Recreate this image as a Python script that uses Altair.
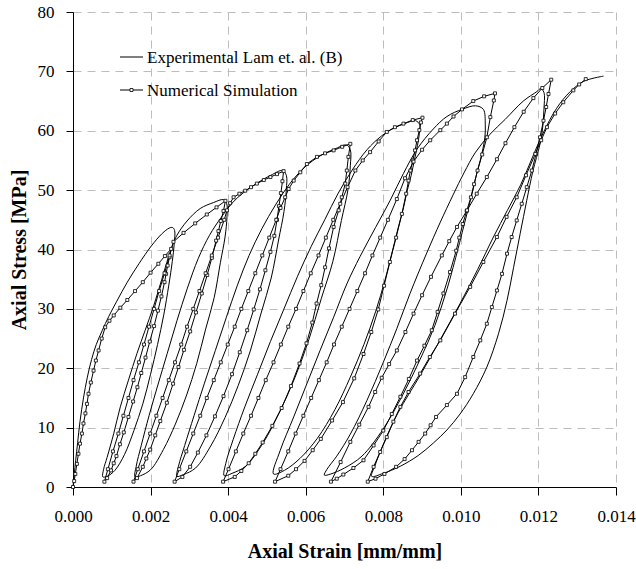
import altair as alt
import pandas as pd

# ---------------- data (strain in 1e-3 mm/mm, stress in MPa), in path order ----------------
num_initial = [(0, 0), (0.03, 1.0), (0.06, 2.2), (0.10, 3.9), (0.14, 5.6), (0.18, 7.3), (0.23, 9.0),
               (0.27, 10.7), (0.32, 12.4), (0.36, 14.0), (0.40, 15.7), (0.46, 17.6), (0.53, 19.6),
               (0.59, 21.3), (0.66, 23.0), (0.74, 25.0), (0.83, 26.9), (0.94, 28.0), (1.05, 28.9),
               (1.22, 30.2), (1.40, 31.5), (1.60, 33.0), (1.80, 34.5), (2.00, 36.1), (2.20, 37.6),
               (2.37, 38.9), (2.53, 40.1)]
num_unload_1 = [(2.49, 38.7), (2.44, 37.3), (2.40, 35.9), (2.36, 34.5), (2.28, 32.1), (2.19, 29.7),
                (2.09, 27.1), (1.98, 24.5), (1.87, 21.8), (1.76, 19.2), (1.66, 16.8), (1.55, 14.4),
                (1.43, 11.8), (1.31, 9.2), (1.21, 7.2), (1.12, 5.2), (1.05, 4.0), (0.98, 2.8),
                (0.88, 1.5), (0.81, 0.9)]
num_reload_1 = [(0.90, 3.0), (1.03, 6.0), (1.17, 9.0), (1.30, 12.0), (1.43, 15.0), (1.56, 18.0),
                (1.70, 21.0), (1.83, 24.0), (1.96, 27.0), (2.09, 30.0), (2.22, 33.0), (2.36, 36.0),
                (2.49, 39.0), (2.59, 41.3), (2.85, 42.8), (3.15, 44.4), (3.45, 45.9), (3.70, 47.1),
                (3.93, 48.2)]
num_unload_2 = [(3.88, 46.5), (3.81, 44.8), (3.75, 43.1), (3.69, 41.5), (3.58, 38.6), (3.46, 35.7),
                (3.32, 32.6), (3.17, 29.4), (3.02, 26.2), (2.86, 23.1), (2.72, 20.2), (2.58, 17.4),
                (2.42, 14.2), (2.25, 11.1), (2.12, 8.7), (1.99, 6.3), (1.89, 4.8), (1.80, 3.4),
                (1.65, 1.5), (1.56, 0.9)]
num_reload_2 = [(1.67, 3.0), (1.83, 6.0), (1.99, 9.0), (2.15, 12.0), (2.31, 15.0), (2.47, 18.0),
                (2.63, 21.0), (2.79, 24.0), (2.94, 27.0), (3.10, 30.0), (3.26, 33.0), (3.42, 36.0),
                (3.58, 39.0), (3.74, 42.0), (3.90, 45.0), (3.97, 46.6), (4.05, 47.8), (4.14, 48.8),
                (4.29, 49.4), (4.44, 49.9), (4.59, 50.5), (4.74, 51.1), (4.92, 51.7), (5.09, 52.2),
                (5.26, 52.7), (5.43, 53.2)]
num_unload_3 = [(5.40, 51.5), (5.36, 49.5), (5.31, 47.3), (5.26, 45.0), (5.19, 42.3), (5.09, 39.6),
                (4.96, 36.5), (4.82, 33.3), (4.66, 29.9), (4.49, 26.4), (4.30, 22.7), (4.10, 19.0),
                (3.88, 15.3), (3.66, 11.9), (3.44, 8.7), (3.22, 5.8), (3.02, 3.4), (2.82, 1.7),
                (2.62, 0.9)]
num_reload_3 = [(2.74, 3.0), (2.92, 6.0), (3.10, 9.0), (3.28, 12.0), (3.45, 15.0), (3.63, 18.0),
                (3.81, 21.0), (3.99, 24.0), (4.17, 27.0), (4.34, 30.0), (4.52, 33.0), (4.70, 36.0),
                (4.88, 39.0), (5.06, 42.0), (5.24, 45.0), (5.35, 47.0), (5.47, 48.8), (5.56, 50.2),
                (5.69, 51.6), (5.86, 53.0), (6.03, 54.4), (6.29, 55.6), (6.50, 56.2), (6.72, 56.7),
                (6.94, 57.3), (7.15, 57.8)]
num_unload_4 = [(7.10, 55.6), (7.06, 53.3), (7.02, 51.1), (6.93, 48.8), (6.85, 46.6), (6.72, 43.8),
                (6.60, 40.2), (6.50, 37.0), (6.40, 34.0), (6.28, 30.9), (6.17, 27.7), (6.02, 24.2),
                (5.84, 20.8), (5.62, 17.0), (5.38, 13.3), (5.14, 10.3), (4.89, 7.5), (4.70, 5.6),
                (4.53, 4.0), (4.34, 2.7), (4.17, 1.7), (3.87, 0.9)]
num_reload_4 = [(4.01, 3.0), (4.20, 6.0), (4.39, 9.0), (4.59, 12.0), (4.78, 15.0), (4.97, 18.0),
                (5.17, 21.0), (5.36, 24.0), (5.55, 27.0), (5.75, 30.0), (5.94, 33.0), (6.13, 36.0),
                (6.33, 39.0), (6.52, 42.0), (6.71, 45.0), (6.89, 47.7), (7.08, 50.5), (7.28, 53.3),
                (7.47, 55.0), (7.66, 56.4), (7.88, 58.2), (8.09, 59.8), (8.30, 60.6), (8.52, 61.2),
                (8.76, 61.8), (9.01, 62.2)]
num_unload_5 = [(8.97, 61.4), (8.93, 60.1), (8.87, 58.4), (8.82, 56.7), (8.76, 55.0), (8.70, 53.3),
                (8.65, 51.6), (8.59, 49.4), (8.48, 46.0), (8.33, 42.0), (8.17, 37.9), (8.02, 33.9),
                (7.87, 29.9), (7.69, 26.1), (7.49, 22.4), (7.25, 18.3), (6.96, 14.3), (6.68, 11.2),
                (6.39, 8.1), (6.18, 6.2), (5.97, 4.4), (5.75, 3.0), (5.55, 1.9), (5.21, 0.9)]
num_reload_5 = [(5.35, 3.0), (5.55, 6.0), (5.74, 9.0), (5.94, 12.0), (6.14, 15.0), (6.34, 18.0),
                (6.54, 21.0), (6.73, 24.0), (6.93, 27.0), (7.13, 30.0), (7.33, 33.0), (7.53, 36.0),
                (7.72, 39.0), (7.92, 42.0), (8.12, 45.0), (8.35, 48.5), (8.56, 52.0), (8.78, 54.8),
                (9.00, 56.8), (9.21, 58.4), (9.47, 60.1), (9.64, 61.2), (9.81, 62.4), (10.03, 63.6),
                (10.32, 65.0), (10.60, 65.8), (10.88, 66.3)]
num_unload_6 = [(10.85, 65.1), (10.76, 62.3), (10.67, 58.9), (10.55, 56.0), (10.43, 53.3), (10.34, 51.0),
                (10.26, 48.8), (10.15, 46.5), (10.05, 44.3), (9.96, 42.0), (9.88, 39.8), (9.72, 36.2),
                (9.55, 32.6), (9.40, 29.5), (9.25, 26.4), (9.06, 23.8), (8.87, 21.3), (8.66, 18.2),
                (8.44, 15.2), (8.22, 12.3), (8.00, 9.5), (7.75, 7.0), (7.49, 4.5), (7.23, 3.2),
                (6.97, 2.1), (6.80, 1.4), (6.65, 0.9)]
num_reload_6 = [(6.90, 4.2), (7.15, 7.6), (7.38, 10.5), (7.62, 13.5), (7.79, 16.0), (7.96, 18.4),
                (8.15, 20.7), (8.35, 23.0), (8.57, 26.1), (8.78, 29.2), (9.00, 32.3), (9.23, 35.4),
                (9.51, 39.0), (9.70, 41.4), (9.90, 43.8), (10.16, 46.6), (10.41, 49.4), (10.67, 52.2),
                (10.93, 55.2), (11.15, 57.9), (11.38, 60.6), (11.62, 63.2), (11.87, 65.5), (12.10, 67.2),
                (12.33, 68.6)]
num_unload_7 = [(12.26, 66.2), (12.20, 64.0), (12.13, 61.7), (12.04, 58.9), (11.94, 56.1), (11.83, 53.3),
                (11.70, 50.5), (11.57, 47.7), (11.44, 44.9), (11.31, 42.1), (11.19, 39.3), (11.06, 35.9),
                (10.93, 33.1), (10.80, 30.3), (10.67, 27.5), (10.50, 24.7), (10.32, 21.9), (10.11, 18.5),
                (9.90, 15.7), (9.64, 13.8), (9.36, 11.8), (9.22, 10.4), (9.08, 9.0), (8.91, 7.6),
                (8.74, 6.2), (8.55, 4.7), (8.33, 3.4), (8.03, 2.2), (7.80, 1.4), (7.60, 0.9)]
num_reload_7 = [(7.75, 3.4), (7.92, 5.9), (8.09, 8.4), (8.26, 11.0), (8.44, 13.5), (8.65, 16.0),
                (8.95, 19.1), (9.20, 21.9), (9.47, 24.7), (9.85, 29.2), (10.24, 33.7), (10.58, 37.9),
                (10.93, 42.1), (11.18, 45.5), (11.44, 48.8), (11.68, 52.5), (11.92, 56.1), (12.07, 58.4),
                (12.22, 60.6), (12.43, 62.9), (12.64, 64.8), (12.90, 66.8), (13.05, 67.8), (13.22, 68.7)]

exp_initial = [(0, 0), (0.03, 2.0), (0.07, 4.5), (0.12, 7.5), (0.18, 11.0), (0.27, 15.0), (0.37, 18.5),
               (0.48, 21.5), (0.60, 24.0), (0.75, 26.3), (0.92, 28.7), (1.13, 31.3), (1.40, 34.5),
               (1.70, 37.6), (2.02, 40.6), (2.30, 42.7), (2.48, 43.6), (2.57, 43.7)]
exp_unload_1 = [(2.62, 43.2), (2.61, 41.0), (2.56, 38.0), (2.47, 34.0), (2.34, 29.0), (2.18, 24.0),
                (2.00, 19.0), (1.80, 14.0), (1.57, 9.5), (1.33, 5.5), (1.08, 2.8), (0.88, 1.8), (0.77, 1.7)]
exp_reload_1 = [(0.79, 3.0), (0.88, 5.0), (1.05, 9.0), (1.22, 13.5), (1.43, 18.0), (1.65, 22.5),
                (1.86, 26.4), (2.08, 30.5), (2.29, 35.0), (2.46, 38.7), (2.57, 40.8), (2.68, 42.4),
                (2.94, 44.8), (3.28, 46.9), (3.62, 47.9), (3.88, 48.4)]
exp_unload_2 = [(3.96, 47.8), (3.97, 45.5), (3.92, 42.1), (3.80, 37.8), (3.64, 31.9), (3.42, 26.6),
                (3.19, 20.8), (2.93, 15.5), (2.64, 10.6), (2.33, 6.3), (2.00, 2.9), (1.74, 1.9), (1.60, 1.7)]
exp_reload_2 = [(1.63, 3.5), (1.76, 7.0), (1.96, 12.0), (2.18, 17.0), (2.43, 22.5), (2.68, 28.0),
                (2.95, 33.5), (3.23, 38.5), (3.52, 42.4), (3.82, 45.4), (4.10, 47.8), (4.40, 49.6),
                (4.75, 51.2), (5.10, 52.5), (5.40, 53.3)]
exp_unload_3 = [(5.50, 52.5), (5.50, 50.1), (5.44, 46.4), (5.30, 41.6), (5.11, 35.2), (4.85, 29.3),
                (4.57, 22.9), (4.26, 17.1), (3.92, 11.7), (3.55, 6.9), (3.16, 3.2), (2.85, 2.1), (2.68, 1.8)]
exp_reload_3 = [(2.72, 3.5), (2.88, 7.0), (3.12, 12.0), (3.39, 17.5), (3.67, 23.0), (3.95, 28.5),
                (4.24, 34.0), (4.54, 39.0), (4.87, 43.5), (5.22, 47.5), (5.58, 51.0), (5.98, 53.9),
                (6.38, 55.8), (6.74, 56.9), (7.05, 57.6)]
exp_unload_4 = [(7.15, 56.8), (7.15, 54.1), (7.09, 50.1), (6.92, 44.9), (6.70, 38.0), (6.40, 31.7),
                (6.08, 24.8), (5.72, 18.4), (5.33, 12.7), (4.91, 7.5), (4.45, 3.5), (4.10, 2.3), (3.90, 1.9)]
exp_reload_4 = [(3.94, 4.0), (4.13, 8.0), (4.43, 13.5), (4.76, 19.0), (5.09, 24.5), (5.44, 30.0),
                (5.79, 35.5), (6.14, 40.5), (6.49, 45.0), (6.84, 49.5), (7.20, 53.4), (7.58, 56.8),
                (7.95, 59.1), (8.26, 60.4), (8.55, 61.2), (8.83, 61.7)]
exp_unload_5 = [(8.94, 61.0), (8.93, 59.5), (8.88, 57.5), (8.80, 55.0), (8.72, 52.5), (8.62, 50.0),
                (8.52, 47.0), (8.39, 43.8), (8.26, 40.4), (8.05, 35.0), (7.80, 29.5), (7.50, 24.0),
                (7.15, 18.5), (6.75, 13.0), (6.30, 8.2), (5.85, 4.8), (5.45, 2.8), (5.17, 2.2)]
exp_reload_5 = [(5.34, 6.1), (5.69, 11.8), (6.03, 17.4), (6.37, 23.0), (6.72, 28.6), (7.06, 34.2),
                (7.40, 38.8), (7.80, 43.7), (8.18, 48.3), (8.52, 52.8), (8.87, 56.9), (9.29, 60.3),
                (9.64, 62.4), (10.03, 63.6), (10.38, 64.2)]
exp_unload_6 = [(10.58, 63.6), (10.63, 61.0), (10.62, 58.9), (10.57, 57.0), (10.50, 55.0), (10.41, 52.8),
                (10.31, 50.0), (10.20, 47.1), (10.07, 43.8), (9.93, 40.2), (9.65, 33.5), (9.33, 27.2),
                (8.95, 21.5), (8.50, 15.5), (8.00, 9.8), (7.45, 5.2), (7.00, 3.2), (6.65, 2.2), (6.48, 2.0)]
exp_reload_6 = [(6.55, 3.0), (6.80, 5.2), (7.15, 8.9), (7.58, 14.6), (8.00, 21.0), (8.35, 26.7),
                (8.69, 32.6), (9.12, 39.4), (9.47, 44.6), (9.80, 49.2), (10.08, 52.9), (10.38, 56.4),
                (10.75, 59.4), (11.14, 61.9), (11.61, 65.0), (11.96, 66.6), (12.06, 67.1)]
exp_unload_7 = [(12.14, 66.5), (12.14, 63.4), (12.11, 60.6), (12.05, 58.0), (11.95, 55.5), (11.85, 53.0),
                (11.70, 48.3), (11.53, 42.7), (11.36, 37.0), (11.19, 31.4), (10.97, 25.8), (10.67, 20.2),
                (10.32, 15.7), (9.98, 12.3), (9.64, 9.6), (9.29, 7.4), (8.90, 5.3), (8.44, 3.5),
                (8.00, 2.3), (7.70, 1.8)]
exp_reload_7 = [(7.78, 3.5), (8.02, 7.5), (8.38, 12.5), (8.95, 18.8), (9.45, 24.6), (9.98, 30.9),
                (10.43, 36.6), (10.84, 42.1), (11.20, 46.6), (11.55, 51.0), (11.85, 55.6), (12.12, 59.6),
                (12.47, 63.8), (12.82, 66.6), (13.16, 68.3), (13.45, 68.9), (13.68, 69.2)]

x_ticks = [0.000, 0.002, 0.004, 0.006, 0.008, 0.010, 0.012, 0.014]
y_ticks = [0, 10, 20, 30, 40, 50, 60, 70, 80]
legend_labels = ["Experimental Lam et. al. (B)", "Numerical Simulation"]

num_segments = [num_initial, num_unload_1, num_reload_1, num_unload_2, num_reload_2, num_unload_3,
                num_reload_3, num_unload_4, num_reload_4, num_unload_5, num_reload_5, num_unload_6,
                num_reload_6, num_unload_7, num_reload_7]
exp_segments = [exp_initial, exp_unload_1, exp_reload_1, exp_unload_2, exp_reload_2, exp_unload_3,
                exp_reload_3, exp_unload_4, exp_reload_4, exp_unload_5, exp_reload_5, exp_unload_6,
                exp_reload_6, exp_unload_7, exp_reload_7]


def build(segments):
    rows = []
    k = 0
    for seg in segments:
        for s, p in seg:
            rows.append({"strain": s * 0.001, "stress": p, "k": k})
            k += 1
    return pd.DataFrame(rows)


num_df = build(num_segments)
exp_df = build(exp_segments)

FONT = "Liberation Serif"
GRID = "#bdbdbd"

x_enc = alt.X("strain:Q", scale=alt.Scale(domain=[0, 0.014], nice=False, zero=False),
              axis=alt.Axis(values=x_ticks, format=".3f", title="Axial Strain [mm/mm]",
                            grid=True, gridDash=[8, 6], gridColor=GRID, gridWidth=1,
                            domainColor="black", domainWidth=1, tickColor="black", tickSize=8,
                            labelFont=FONT, labelFontSize=17, labelColor="black", labelPadding=13,
                            labelFlush=False, labelOverlap=False,
                            titleFont=FONT, titleFontSize=20, titleFontWeight="bold",
                            titleColor="black", titleY=64, titleBaseline="middle"))
y_enc = alt.Y("stress:Q", scale=alt.Scale(domain=[0, 80], nice=False),
              axis=alt.Axis(values=y_ticks, title="Axial Stress [MPa]",
                            grid=True, gridDash=[8, 6], gridColor=GRID, gridWidth=1,
                            domainColor="black", domainWidth=1, tickColor="black", tickSize=7,
                            labelFont=FONT, labelFontSize=17, labelColor="black", labelPadding=12,
                            labelOverlap=False,
                            titleFont=FONT, titleFontSize=20, titleFontWeight="bold",
                            titleColor="black", titleX=-54, titleY=237.5, titleBaseline="middle"))

exp_line = alt.Chart(exp_df).mark_line(color="black", strokeWidth=1, interpolate="catmull-rom").encode(
    x=x_enc, y=y_enc, order=alt.Order("k:Q"))
num_line = alt.Chart(num_df).mark_line(color="black", strokeWidth=1).encode(
    x=x_enc, y=y_enc, order=alt.Order("k:Q"))
num_pts = alt.Chart(num_df).mark_point(shape="square", size=9, filled=True, fill="white",
                                       stroke="black", strokeWidth=0.8, opacity=1).encode(
    x=x_enc, y=y_enc)

one = pd.DataFrame({"a": [0]})
leg1_line = alt.Chart(one).mark_rule(color="black", strokeWidth=1).encode(
    x=alt.value(47), x2=alt.value(70), y=alt.value(45))
leg1_text = alt.Chart(one).mark_text(text=legend_labels[0], align="left", baseline="middle",
                                     font=FONT, fontSize=17, color="black").encode(
    x=alt.value(74), y=alt.value(46))
leg2_line = alt.Chart(one).mark_rule(color="black", strokeWidth=1).encode(
    x=alt.value(47), x2=alt.value(70), y=alt.value(78))
leg2_pt = alt.Chart(one).mark_point(shape="square", size=9, filled=True, fill="white",
                                    stroke="black", strokeWidth=0.8, opacity=1).encode(
    x=alt.value(58.5), y=alt.value(78))
leg2_text = alt.Chart(one).mark_text(text=legend_labels[1], align="left", baseline="middle",
                                     font=FONT, fontSize=17, color="black").encode(
    x=alt.value(74), y=alt.value(79))

chart = alt.layer(exp_line, num_line, num_pts, leg1_line, leg1_text, leg2_line, leg2_pt, leg2_text).properties(
    width=543, height=475,
    autosize=alt.AutoSizeParams(type="none"),
    padding={"left": 73, "top": 12, "right": 20, "bottom": 82},
    background="white",
).configure_view(strokeWidth=0).configure_axis(
    labelFont=FONT, titleFont=FONT
).configure_text(font=FONT)

chart.save("out.html", embed_options={"renderer": "svg", "actions": False})
